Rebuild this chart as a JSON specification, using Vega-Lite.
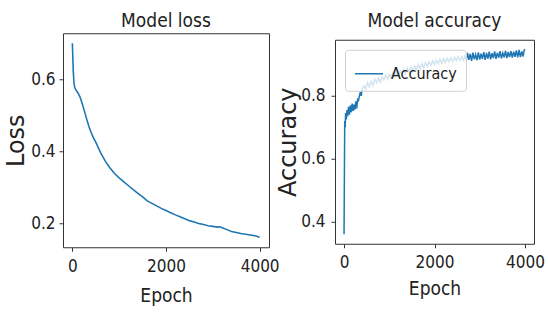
{
  "$schema": "https://vega.github.io/schema/vega-lite/v6.json",
  "background": "white",
  "padding": {"left": 4, "top": 11, "right": 2, "bottom": 2},
  "spacing": -4,
  "center": true,
  "resolve": {"scale": {"color": "independent"}, "legend": {"color": "independent"}},
  "datasets": {
    "loss": [
      {"epoch": 0, "loss": 0.70}, {"epoch": 10, "loss": 0.66}, {"epoch": 20, "loss": 0.62}, {"epoch": 35, "loss": 0.59},
      {"epoch": 50, "loss": 0.577}, {"epoch": 80, "loss": 0.57}, {"epoch": 120, "loss": 0.562}, {"epoch": 160, "loss": 0.552},
      {"epoch": 200, "loss": 0.537}, {"epoch": 250, "loss": 0.515}, {"epoch": 300, "loss": 0.492}, {"epoch": 350, "loss": 0.47},
      {"epoch": 400, "loss": 0.452}, {"epoch": 450, "loss": 0.437}, {"epoch": 500, "loss": 0.425}, {"epoch": 600, "loss": 0.397},
      {"epoch": 700, "loss": 0.373}, {"epoch": 800, "loss": 0.354}, {"epoch": 900, "loss": 0.338}, {"epoch": 1000, "loss": 0.326},
      {"epoch": 1100, "loss": 0.315}, {"epoch": 1200, "loss": 0.304}, {"epoch": 1300, "loss": 0.293}, {"epoch": 1400, "loss": 0.283},
      {"epoch": 1500, "loss": 0.273}, {"epoch": 1600, "loss": 0.262}, {"epoch": 1700, "loss": 0.255}, {"epoch": 1800, "loss": 0.248},
      {"epoch": 1900, "loss": 0.241}, {"epoch": 2000, "loss": 0.235}, {"epoch": 2100, "loss": 0.229}, {"epoch": 2200, "loss": 0.223},
      {"epoch": 2300, "loss": 0.218}, {"epoch": 2400, "loss": 0.212}, {"epoch": 2500, "loss": 0.207}, {"epoch": 2600, "loss": 0.203},
      {"epoch": 2700, "loss": 0.199}, {"epoch": 2800, "loss": 0.196}, {"epoch": 2900, "loss": 0.193}, {"epoch": 3000, "loss": 0.191},
      {"epoch": 3100, "loss": 0.189}, {"epoch": 3150, "loss": 0.19}, {"epoch": 3200, "loss": 0.187}, {"epoch": 3300, "loss": 0.182},
      {"epoch": 3400, "loss": 0.177}, {"epoch": 3500, "loss": 0.174}, {"epoch": 3600, "loss": 0.171}, {"epoch": 3700, "loss": 0.169},
      {"epoch": 3800, "loss": 0.167}, {"epoch": 3900, "loss": 0.165}, {"epoch": 3950, "loss": 0.163}, {"epoch": 4000, "loss": 0.161}
    ],
    "acc": [
      {"epoch": 0, "acc": 0.36}, {"epoch": 8, "acc": 0.55}, {"epoch": 15, "acc": 0.72}, {"epoch": 25, "acc": 0.70},
      {"epoch": 35, "acc": 0.745}, {"epoch": 50, "acc": 0.725}, {"epoch": 65, "acc": 0.755}, {"epoch": 80, "acc": 0.735},
      {"epoch": 100, "acc": 0.765}, {"epoch": 120, "acc": 0.74}, {"epoch": 140, "acc": 0.77}, {"epoch": 160, "acc": 0.748},
      {"epoch": 180, "acc": 0.775}, {"epoch": 200, "acc": 0.752}, {"epoch": 220, "acc": 0.772}, {"epoch": 240, "acc": 0.756},
      {"epoch": 260, "acc": 0.782}, {"epoch": 280, "acc": 0.76}, {"epoch": 300, "acc": 0.788}, {"epoch": 320, "acc": 0.785},
      {"epoch": 340, "acc": 0.80}, {"epoch": 360, "acc": 0.812}, {"epoch": 380, "acc": 0.80}, {"epoch": 400, "acc": 0.822},
      {"epoch": 440, "acc": 0.832}, {"epoch": 480, "acc": 0.822}, {"epoch": 520, "acc": 0.842}, {"epoch": 560, "acc": 0.828},
      {"epoch": 600, "acc": 0.846}, {"epoch": 640, "acc": 0.833}, {"epoch": 680, "acc": 0.852}, {"epoch": 720, "acc": 0.841},
      {"epoch": 760, "acc": 0.857}, {"epoch": 800, "acc": 0.843}, {"epoch": 840, "acc": 0.86}, {"epoch": 880, "acc": 0.851},
      {"epoch": 920, "acc": 0.866}, {"epoch": 960, "acc": 0.853}, {"epoch": 1000, "acc": 0.867}, {"epoch": 1040, "acc": 0.858},
      {"epoch": 1080, "acc": 0.872}, {"epoch": 1120, "acc": 0.86}, {"epoch": 1160, "acc": 0.876}, {"epoch": 1200, "acc": 0.864},
      {"epoch": 1240, "acc": 0.879}, {"epoch": 1280, "acc": 0.868}, {"epoch": 1320, "acc": 0.884}, {"epoch": 1360, "acc": 0.871},
      {"epoch": 1400, "acc": 0.888}, {"epoch": 1440, "acc": 0.875}, {"epoch": 1480, "acc": 0.892}, {"epoch": 1520, "acc": 0.879},
      {"epoch": 1560, "acc": 0.894}, {"epoch": 1600, "acc": 0.883}, {"epoch": 1640, "acc": 0.899}, {"epoch": 1680, "acc": 0.886},
      {"epoch": 1720, "acc": 0.902}, {"epoch": 1760, "acc": 0.889}, {"epoch": 1800, "acc": 0.905}, {"epoch": 1840, "acc": 0.893},
      {"epoch": 1880, "acc": 0.907}, {"epoch": 1920, "acc": 0.896}, {"epoch": 1960, "acc": 0.911}, {"epoch": 2000, "acc": 0.899},
      {"epoch": 2040, "acc": 0.913}, {"epoch": 2080, "acc": 0.902}, {"epoch": 2120, "acc": 0.916}, {"epoch": 2160, "acc": 0.904},
      {"epoch": 2200, "acc": 0.918}, {"epoch": 2240, "acc": 0.906}, {"epoch": 2280, "acc": 0.919}, {"epoch": 2320, "acc": 0.908},
      {"epoch": 2360, "acc": 0.921}, {"epoch": 2400, "acc": 0.909}, {"epoch": 2440, "acc": 0.922}, {"epoch": 2480, "acc": 0.911},
      {"epoch": 2520, "acc": 0.924}, {"epoch": 2560, "acc": 0.912}, {"epoch": 2600, "acc": 0.925}, {"epoch": 2640, "acc": 0.913},
      {"epoch": 2680, "acc": 0.93}, {"epoch": 2700, "acc": 0.912}, {"epoch": 2730, "acc": 0.936}, {"epoch": 2760, "acc": 0.914},
      {"epoch": 2790, "acc": 0.933}, {"epoch": 2820, "acc": 0.911}, {"epoch": 2850, "acc": 0.937}, {"epoch": 2880, "acc": 0.916},
      {"epoch": 2910, "acc": 0.931}, {"epoch": 2940, "acc": 0.913}, {"epoch": 2970, "acc": 0.938}, {"epoch": 3000, "acc": 0.915},
      {"epoch": 3030, "acc": 0.934}, {"epoch": 3060, "acc": 0.917}, {"epoch": 3090, "acc": 0.939}, {"epoch": 3120, "acc": 0.914},
      {"epoch": 3150, "acc": 0.936}, {"epoch": 3180, "acc": 0.918}, {"epoch": 3210, "acc": 0.94}, {"epoch": 3240, "acc": 0.916},
      {"epoch": 3270, "acc": 0.935}, {"epoch": 3300, "acc": 0.92}, {"epoch": 3330, "acc": 0.941}, {"epoch": 3360, "acc": 0.917},
      {"epoch": 3390, "acc": 0.937}, {"epoch": 3420, "acc": 0.921}, {"epoch": 3450, "acc": 0.942}, {"epoch": 3480, "acc": 0.919},
      {"epoch": 3510, "acc": 0.936}, {"epoch": 3540, "acc": 0.922}, {"epoch": 3570, "acc": 0.943}, {"epoch": 3600, "acc": 0.92},
      {"epoch": 3630, "acc": 0.939}, {"epoch": 3660, "acc": 0.923}, {"epoch": 3690, "acc": 0.942}, {"epoch": 3720, "acc": 0.921},
      {"epoch": 3750, "acc": 0.94}, {"epoch": 3780, "acc": 0.924}, {"epoch": 3810, "acc": 0.944}, {"epoch": 3840, "acc": 0.922},
      {"epoch": 3870, "acc": 0.946}, {"epoch": 3900, "acc": 0.923}, {"epoch": 3930, "acc": 0.941}, {"epoch": 3960, "acc": 0.925},
      {"epoch": 3980, "acc": 0.944}, {"epoch": 4000, "acc": 0.948}
    ]
  },
  "hconcat": [
    {
      "width": 206,
      "height": 214,
      "title": {"text": "Model loss", "offset": 2},
      "data": {"name": "loss"},
      "mark": {"type": "line", "color": "#1f77b4", "strokeWidth": 1.6},
      "encoding": {
        "x": {"field": "epoch", "type": "quantitative", "title": "Epoch",
              "scale": {"domain": [-200, 4200], "nice": false, "zero": false},
              "axis": {"values": [0, 2000, 4000], "format": "d", "titlePadding": 12}},
        "y": {"field": "loss", "type": "quantitative", "title": "Loss",
              "scale": {"domain": [0.133, 0.728], "nice": false, "zero": false},
              "axis": {"values": [0.2, 0.4, 0.6], "format": ".1f", "labelPadding": 4}}
      }
    },
    {
      "width": 199,
      "height": 204,
      "title": {"text": "Model accuracy", "offset": 9},
      "data": {"name": "acc"},
      "mark": {"type": "line", "strokeWidth": 1.5},
      "encoding": {
        "x": {"field": "epoch", "type": "quantitative", "title": "Epoch",
              "scale": {"domain": [-200, 4200], "nice": false, "zero": false},
              "axis": {"values": [0, 2000, 4000], "format": "d", "titlePadding": 9}},
        "y": {"field": "acc", "type": "quantitative", "title": "Accuracy",
              "scale": {"domain": [0.33, 0.978], "nice": false, "zero": false},
              "axis": {"values": [0.4, 0.6, 0.8], "format": ".1f", "labelPadding": 6, "titlePadding": 0}},
        "color": {"datum": "Accuracy", "type": "nominal",
                  "scale": {"range": ["#1f77b4"]},
                  "legend": {"title": null, "orient": "top-left", "offset": 10,
                             "fillColor": "rgba(255,255,255,0.8)", "strokeColor": "#d0d0d0",
                             "cornerRadius": 3, "padding": 9,
                             "symbolType": "stroke", "symbolSize": 784, "symbolStrokeWidth": 1.5,
                             "labelFontSize": 16, "labelFont": "DejaVu Sans Condensed, DejaVu Sans", "labelColor": "#222", "labelOffset": 7}}
      }
    }
  ],
  "config": {
    "font": "DejaVu Sans Condensed, DejaVu Sans",
    "view": {"stroke": "#333", "strokeWidth": 1},
    "title": {"fontSize": 19, "fontWeight": "normal", "color": "#222", "font": "DejaVu Sans Condensed, DejaVu Sans"},
    "axis": {
      "domain": false, "grid": false,
      "tickColor": "#333", "tickSize": 4, "tickWidth": 1,
      "labelFontSize": 17, "labelColor": "#222",
      "titleFontWeight": "normal", "titleColor": "#222"
    },
    "axisY": {"titleFont": "DejaVu Sans", "titleFontSize": 24, "titlePadding": 2},
    "axisX": {"titleFontSize": 19, "labelPadding": 7}
  }
}
